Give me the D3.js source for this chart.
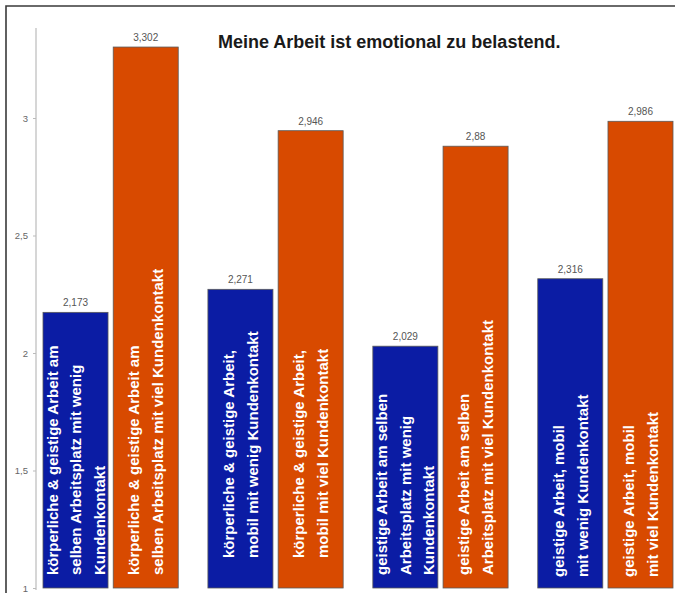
<!DOCTYPE html>
<html>
<head>
<meta charset="utf-8">
<script src="https://cdn.jsdelivr.net/npm/d3@7"></script>
<style>
  html, body { margin: 0; padding: 0; background: #fff; }
  svg { display: block; }
</style>
</head>
<body>
<svg id="chart" width="675" height="593"></svg>
<script>
// Survey item and work-type groups
const title = "Meine Arbeit ist emotional zu belastend.";
const groups = ["koerperlich_fest", "koerperlich_mobil", "geistig_fest", "geistig_mobil"];
const series = ["wenig", "viel"];

// Mean agreement per group: little customer contact vs. much customer contact
const valuesWenig = [2.173, 2.271, 2.029, 2.316];
const valuesViel  = [3.302, 2.946, 2.88, 2.986];
const valueLabelsWenig = ["2,173", "2,271", "2,029", "2,316"];
const valueLabelsViel  = ["3,302", "2,946", "2,88", "2,986"];

// Category text written inside each bar (one entry per line)
const barTextWenig = [
  ["körperliche & geistige Arbeit am", "selben Arbeitsplatz mit wenig", "Kundenkontakt"],
  ["körperliche & geistige Arbeit,", "mobil mit wenig Kundenkontakt"],
  ["geistige Arbeit am selben", "Arbeitsplatz mit wenig", "Kundenkontakt"],
  ["geistige Arbeit, mobil", "mit wenig Kundenkontakt"]
];
const barTextViel = [
  ["körperliche & geistige Arbeit am", "selben Arbeitsplatz mit viel Kundenkontakt"],
  ["körperliche & geistige Arbeit,", "mobil mit viel Kundenkontakt"],
  ["geistige Arbeit am selben", "Arbeitsplatz mit viel Kundenkontakt"],
  ["geistige Arbeit, mobil", "mit viel Kundenkontakt"]
];

// Y axis ticks
const tickValues = [1, 1.5, 2, 2.5, 3];
const tickLabels = ["1", "1,5", "2", "2,5", "3"];

// ---- layout / style ----
const colors = { wenig: "#0b1ca4", viel: "#d84a00" };
const textInset = [13, 30, 13, 11]; // distance of inner text from bar base, per group
const font = "'Liberation Sans', Arial, sans-serif";

const svg = d3.select("#chart");

// outer frame (top and left edges)
svg.append("path")
  .attr("d", "M6,593 L6,6 L675,6")
  .attr("fill", "none")
  .attr("stroke", "#3a3a3a")
  .attr("stroke-width", 1.6);

const y = d3.scaleLinear().domain([1, 3.383]).range([588, 28]);
const x0 = d3.scaleBand().domain(groups).range([43, 673]).paddingInner(0.18).paddingOuter(0);
const x1 = d3.scaleBand().domain(series).range([0, x0.bandwidth()]).paddingInner(0.074).paddingOuter(0);

// Y axis
const yAxis = d3.axisLeft(y)
  .tickValues(tickValues)
  .tickFormat((d, i) => tickLabels[i])
  .tickSize(3)
  .tickPadding(5);

const axisG = svg.append("g")
  .attr("transform", "translate(36,0)")
  .call(yAxis);
axisG.select(".domain")
  .attr("stroke", "#c8c8c8")
  .attr("stroke-width", 1.5)
  .attr("d", `M0,${y.range()[1]}V${y.range()[0] + 2}`);
axisG.selectAll(".tick line").attr("stroke", "#bbb");
axisG.selectAll(".tick text")
  .attr("fill", "#666")
  .style("font-family", font)
  .style("font-size", "9.5px");

// Bar records
const bars = [];
groups.forEach((g, i) => {
  bars.push({ group: g, gi: i, s: "wenig", v: valuesWenig[i], label: valueLabelsWenig[i], lines: barTextWenig[i] });
  bars.push({ group: g, gi: i, s: "viel", v: valuesViel[i], label: valueLabelsViel[i], lines: barTextViel[i] });
});

const barG = svg.append("g");
barG.selectAll("rect")
  .data(bars)
  .join("rect")
  .attr("x", d => x0(d.group) + x1(d.s))
  .attr("y", d => y(d.v))
  .attr("width", x1.bandwidth())
  .attr("height", d => y(1) - y(d.v))
  .attr("fill", d => colors[d.s])
  .attr("stroke", "#5a5a5a")
  .attr("stroke-width", 0.8);

// Value labels above the bars
barG.selectAll("text.val")
  .data(bars)
  .join("text")
  .attr("class", "val")
  .attr("x", d => x0(d.group) + x1(d.s) + x1.bandwidth() / 2)
  .attr("y", d => y(d.v) - 6)
  .attr("text-anchor", "middle")
  .attr("fill", "#555")
  .style("font-family", font)
  .style("font-size", "10px")
  .text(d => d.label);

// Rotated category text inside the bars
const lineStep = 23.5;
bars.forEach(d => {
  const cx = x0(d.group) + x1(d.s) + x1.bandwidth() / 2;
  const n = d.lines.length;
  const baseY = y(1) - textInset[d.gi];
  const t = barG.append("g")
    .attr("transform", `translate(${cx},${baseY}) rotate(-90)`);
  d.lines.forEach((line, k) => {
    t.append("text")
      .attr("x", 0)
      .attr("y", (k - (n - 1) / 2) * lineStep + 5.5)
      .attr("fill", "#fff")
      .style("font-family", font)
      .style("font-weight", "bold")
      .style("font-size", "15px")
      .text(line);
  });
});

// Title
svg.append("text")
  .attr("x", 218)
  .attr("y", 48)
  .attr("fill", "#1a1a1a")
  .style("font-family", font)
  .style("font-weight", "bold")
  .style("font-size", "18px")
  .text(title);
</script>
</body>
</html>
